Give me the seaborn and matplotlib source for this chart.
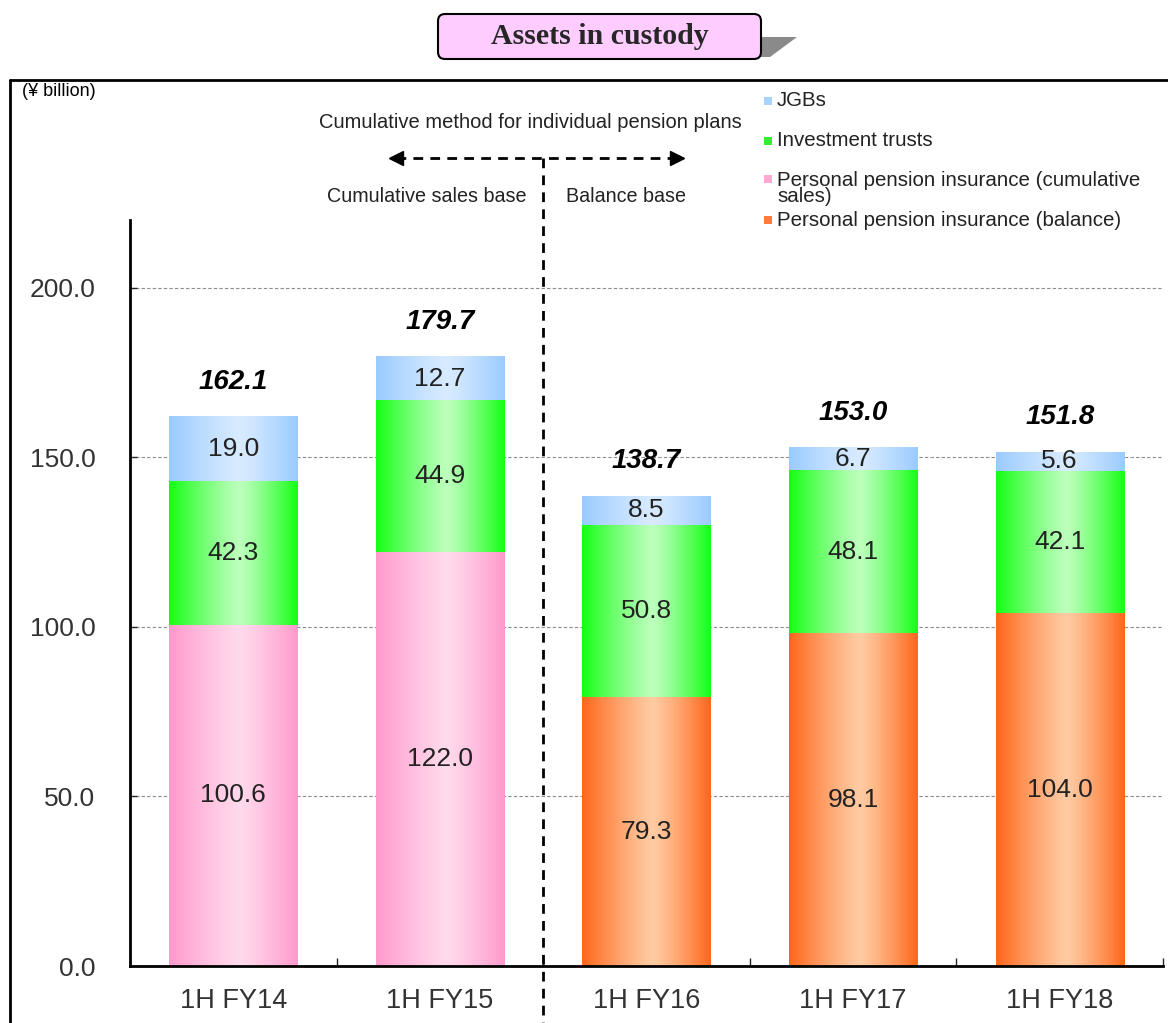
import numpy as np
import pandas as pd
import matplotlib
matplotlib.use("Agg")
import matplotlib.pyplot as plt
import seaborn as sns
from matplotlib.patches import FancyBboxPatch, Polygon, Rectangle
from matplotlib.lines import Line2D
from matplotlib.colors import to_rgb

# ---- data (¥ billion) ----
periods = ["1H FY14", "1H FY15", "1H FY16", "1H FY17", "1H FY18"]
pension = [100.6, 122.0, 79.3, 98.1, 104.0]
trusts = [42.3, 44.9, 50.8, 48.1, 42.1]
jgbs = [19.0, 12.7, 8.5, 6.7, 5.6]
totals = [162.1, 179.7, 138.7, 153.0, 151.8]
pension_basis = ["cumulative", "cumulative", "balance", "balance", "balance"]

legend_labels = ["JGBs", "Investment trusts",
                 "Personal pension insurance (cumulative\nsales)",
                 "Personal pension insurance (balance)"]

# edge / highlight colours of each gradient fill
grad = {
    "jgbs": ("#9ACBFF", "#D8EBFF"),
    "trusts": ("#14FF14", "#BDFFBD"),
    "cumulative": ("#FF99CC", "#FFDAEC"),
    "balance": ("#FF661A", "#FFCBA3"),
}
legend_colors = ["#A8D3FF", "#33EE33", "#FFA8D3", "#FF7A3A"]

sns.set_style("white")
plt.rcParams["font.family"] = ["Liberation Sans", "DejaVu Sans"]

W, H = 1168, 1023
fig = plt.figure(figsize=(W / 100, H / 100), dpi=100)
ax = fig.add_axes([130 / W, 1 - 966 / H, (1163 - 130) / W, (966 - 220) / H])

df = pd.DataFrame({"period": periods, "pension": pension, "trusts": trusts,
                   "jgbs": jgbs, "basis": pension_basis})
df["cum2"] = df["pension"] + df["trusts"]
df["cum3"] = df["cum2"] + df["jgbs"]

bw = 0.62
layers = []
n0 = len(ax.patches)
sns.barplot(data=df, x="period", y="cum3", color=grad["jgbs"][0], width=bw,
            errorbar=None, ax=ax, order=periods)
layers.append(("jgbs", ax.patches[n0:]))
n0 = len(ax.patches)
sns.barplot(data=df, x="period", y="cum2", color=grad["trusts"][0], width=bw,
            errorbar=None, ax=ax, order=periods)
layers.append(("trusts", ax.patches[n0:]))
n0 = len(ax.patches)
sns.barplot(data=df, x="period", y="pension", hue="basis", dodge=False,
            palette={"cumulative": grad["cumulative"][0], "balance": grad["balance"][0]},
            width=bw, errorbar=None, ax=ax, order=periods, legend=False)
layers.append(("pension", ax.patches[n0:]))


def by_index(patches):
    out = {}
    for p in patches:
        if p.get_height() > 0:
            out[int(round(p.get_x() + p.get_width() / 2))] = p
    return out


jgb_p = by_index(layers[0][1])
tr_p = by_index(layers[1][1])
pe_p = by_index(layers[2][1])


def gradient_img(edge, light, n=200, c=0.55):
    t = np.linspace(0, 1, n)
    d = np.where(t < c, (c - t) / c, (t - c) / (1 - c))
    f = 1 - d ** 1.2
    e, l = np.array(to_rgb(edge)), np.array(to_rgb(light))
    img = e[None, :] * (1 - f[:, None]) + l[None, :] * f[:, None]
    return img[None, :, :]


def fill(p, bottom, key):
    x0 = p.get_x()
    x1 = x0 + p.get_width()
    top = p.get_y() + p.get_height()
    p.set_facecolor("none")
    p.set_edgecolor("none")
    ax.imshow(gradient_img(*grad[key]), extent=[x0, x1, bottom, top],
              aspect="auto", interpolation="bilinear", zorder=2)
    return (x0 + x1) / 2, (bottom + top) / 2


seg_fs = 19
for i in range(len(periods)):
    cx, cy = fill(pe_p[i], 0, pension_basis[i])
    ax.text(cx, cy, f"{pension[i]:.1f}", ha="center", va="center",
            fontsize=seg_fs, color="#222222", zorder=3)
    cx, cy = fill(tr_p[i], pe_p[i].get_height(), "trusts")
    ax.text(cx, cy, f"{trusts[i]:.1f}", ha="center", va="center",
            fontsize=seg_fs, color="#222222", zorder=3)
    cx, cy = fill(jgb_p[i], tr_p[i].get_height(), "jgbs")
    ax.text(cx, cy, f"{jgbs[i]:.1f}", ha="center", va="center",
            fontsize=seg_fs, color="#222222", zorder=3)
    ax.annotate(f"{totals[i]:.1f}", (cx, jgb_p[i].get_height()), xytext=(0, 25),
                textcoords="offset points", ha="center", va="center",
                fontsize=20, fontweight="bold", fontstyle="italic", color="black")

ax.set_xlim(-0.5, 4.5)
ax.set_ylim(0, 220)
ax.set_xlabel("")
ax.set_ylabel("")

# axes styling
for s in ["top", "right"]:
    ax.spines[s].set_visible(False)
for s in ["left", "bottom"]:
    ax.spines[s].set_color("black")
    ax.spines[s].set_linewidth(2)
ax.set_yticks([0, 50, 100, 150, 200])
ax.set_yticklabels([f"{v:.1f}" for v in [0, 50, 100, 150, 200]])
ax.tick_params(axis="y", direction="in", length=5, width=1, pad=25,
               labelsize=19, labelcolor="#333333", left=True)
ax.set_xticks(range(len(periods)))
ax.set_xticklabels(periods)
ax.tick_params(axis="x", which="major", length=0, pad=16, labelsize=19.5,
               labelcolor="#333333")
ax.set_xticks(np.arange(-0.5, 5, 1.0)[1:], minor=True)
ax.tick_params(axis="x", which="minor", direction="in", length=6, width=1, bottom=True)
ax.yaxis.grid(True, linestyle=(0, (3, 2)), color="#8c8c8c", linewidth=0.8)
ax.xaxis.grid(False)
ax.set_axisbelow(True)

# boundary between cumulative-sales base and balance base
def px_to_y(py):
    return (966 - py) * 220 / (966 - 220)

def px_to_x(px):
    return (px - 130) / ((1163 - 130) / 5) - 0.5

ya = px_to_y(158)
ax.add_line(Line2D([1.5, 1.5], [ya, px_to_y(1030)], color="black", lw=2,
                   linestyle=(0, (3.5, 2.6)), clip_on=False, zorder=4))
ax.add_line(Line2D([px_to_x(396), px_to_x(677)], [ya, ya], color="black", lw=2,
                   linestyle=(0, (3.5, 2.6)), clip_on=False, zorder=4))
ax.plot([px_to_x(396)], [ya], marker="<", ms=10, color="black", clip_on=False, zorder=4)
ax.plot([px_to_x(677)], [ya], marker=">", ms=10, color="black", clip_on=False, zorder=4)

pt = fig.dpi_scale_trans


def ftext(x, y, s, **kw):
    fig.text(x / 100, (H - y) / 100, s, transform=pt, **kw)


ftext(530, 122, "Cumulative method for individual pension plans", ha="center",
      va="center", fontsize=14.5, color="#222222")
ftext(427, 196, "Cumulative sales base", ha="center", va="center", fontsize=14.2,
      color="#222222")
ftext(626, 196, "Balance base", ha="center", va="center", fontsize=14.2,
      color="#222222")
ftext(22, 91, "(¥ billion)", ha="left", va="center", fontsize=13, color="black")

# legend
leg_y = [101, 141, 188, 220]
sq_y = [101, 141, 179, 220]
for lab, col, ty, sy in zip(legend_labels, legend_colors, leg_y, sq_y):
    fig.add_artist(Rectangle((764 / 100, (H - sy - 4) / 100), 0.08, 0.08,
                             transform=pt, facecolor=col, edgecolor="none"))
    ftext(777, ty, lab, ha="left", va="center", fontsize=14.8, color="#222222",
          linespacing=0.8)

# outer frame
fig.add_artist(Line2D([10 / 100, 10 / 100], [0, (H - 80) / 100], transform=pt,
                      color="black", lw=2))
fig.add_artist(Line2D([10 / 100, W / 100], [(H - 80) / 100, (H - 80) / 100],
                      transform=pt, color="black", lw=2))

# title box with shadow
fig.add_artist(Polygon([(7.55, (H - 37) / 100), (7.97, (H - 37) / 100),
                        (7.70, (H - 57) / 100), (7.55, (H - 57) / 100)],
                       closed=True, transform=pt, facecolor="#8a8a8a",
                       edgecolor="none", zorder=1))
fig.add_artist(FancyBboxPatch((4.38, (H - 59) / 100), 3.23, 0.45,
                              boxstyle="round,pad=0,rounding_size=0.07",
                              transform=pt, facecolor="#FFCCFF",
                              edgecolor="black", lw=1.5, zorder=2))
fig.text(5.995, (H - 37) / 100, "Assets in custody", transform=pt, ha="center",
         va="center", fontsize=21.5, fontweight="bold",
         family=["Liberation Serif", "DejaVu Serif"], zorder=3)

fig.savefig("out.png", dpi=100)
